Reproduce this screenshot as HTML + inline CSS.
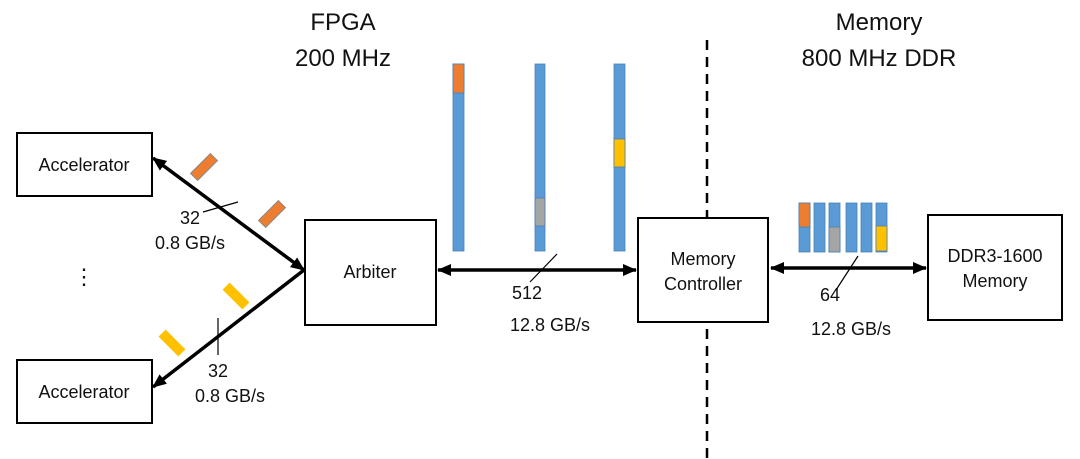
<!DOCTYPE html>
<html><head><style>body{margin:0;background:#fff}svg{display:block}text{font-family:"Liberation Sans",sans-serif;fill:#111}</style></head>
<body>
<svg width="1080" height="459" viewBox="0 0 1080 459">
<defs><marker id="a" markerWidth="14" markerHeight="12" refX="13" refY="6" orient="auto-start-reverse" markerUnits="userSpaceOnUse"><path d="M0,0 L14,6 L0,12z" fill="#000"/></marker>
<marker id="b" markerWidth="14" markerHeight="12" refX="13" refY="6" orient="auto-start-reverse" markerUnits="userSpaceOnUse"><path d="M0,0 L14,6 L0,12z" fill="#000"/></marker></defs>
<text x="343" y="30" font-size="24" text-anchor="middle">FPGA</text>
<text x="343" y="66" font-size="24" text-anchor="middle">200 MHz</text>
<text x="879" y="30" font-size="24" text-anchor="middle">Memory</text>
<text x="879" y="66" font-size="24" text-anchor="middle">800 MHz DDR</text>
<line x1="707" y1="40" x2="707" y2="459" stroke="#000" stroke-width="2.5" stroke-dasharray="10,7"/>
<g fill="#fff" stroke="#000" stroke-width="2">
<rect x="17" y="133" width="135" height="63"/><rect x="17" y="360" width="135" height="63"/>
<rect x="305" y="220" width="131" height="105"/><rect x="638" y="218" width="130" height="104"/>
<rect x="928" y="215" width="134" height="105"/></g>
<g font-size="18" text-anchor="middle">
<text x="84" y="171">Accelerator</text><text x="84" y="398">Accelerator</text>
<text x="370" y="278">Arbiter</text>
<text x="703" y="265">Memory</text><text x="703" y="290">Controller</text>
<text x="995" y="262">DDR3-1600</text><text x="995" y="287">Memory</text>
<text x="190" y="224">32</text><text x="190" y="249">0.8 GB/s</text>
<text x="218" y="377">32</text><text x="230" y="402">0.8 GB/s</text>
<text x="527" y="299">512</text><text x="550" y="331">12.8 GB/s</text>
<text x="830" y="301">64</text><text x="851" y="335">12.8 GB/s</text>
</g>
<g font-size="22" text-anchor="middle"><text x="84" y="284">⋮</text></g>
<g stroke="#000" stroke-width="3.5" fill="none">
<line x1="153" y1="158" x2="304" y2="270" marker-start="url(#a)" marker-end="url(#a)"/>
<line x1="153" y1="387" x2="304" y2="270" marker-start="url(#a)"/>
<line x1="438" y1="270" x2="636" y2="270" marker-start="url(#b)" marker-end="url(#b)"/>
<line x1="771" y1="268" x2="926" y2="268" marker-start="url(#b)" marker-end="url(#b)"/>
</g>
<g stroke="#000" stroke-width="1.2">
<line x1="203" y1="212" x2="238" y2="202"/><line x1="218" y1="318" x2="218" y2="355"/>
<line x1="530" y1="282" x2="557" y2="254"/><line x1="836" y1="290" x2="858" y2="256"/></g>
<g stroke="#888" stroke-width="1">
<rect x="-5" y="-14" width="10" height="28" fill="#ED7D31" transform="translate(204,167) rotate(45)"/>
<rect x="-5" y="-14" width="10" height="28" fill="#ED7D31" transform="translate(272,214) rotate(45)"/>
<rect x="-5" y="-14" width="10" height="28" fill="#FFC000" stroke="none" transform="translate(236,296) rotate(-45)"/>
<rect x="-5" y="-14" width="10" height="28" fill="#FFC000" stroke="none" transform="translate(172,343) rotate(-45)"/>
</g>
<g stroke="#4a7fb5" stroke-width="0.8">
<rect x="453" y="64" width="11" height="187" fill="#5B9BD5"/><rect x="453" y="64" width="11" height="29" fill="#ED7D31"/>
<rect x="535" y="64" width="10" height="187" fill="#5B9BD5"/><rect x="535" y="198" width="10" height="28" fill="#A5A5A5"/>
<rect x="614" y="64" width="11" height="187" fill="#5B9BD5"/><rect x="614" y="139" width="11" height="28" fill="#FFC000"/>
<rect x="799" y="203" width="11" height="49" fill="#5B9BD5"/><rect x="799" y="203" width="11" height="24" fill="#ED7D31"/>
<rect x="814" y="203" width="11" height="49" fill="#5B9BD5"/>
<rect x="829" y="203" width="11" height="49" fill="#5B9BD5"/><rect x="829" y="227" width="11" height="25" fill="#A5A5A5"/>
<rect x="846" y="203" width="11" height="49" fill="#5B9BD5"/>
<rect x="861" y="203" width="11" height="49" fill="#5B9BD5"/>
<rect x="876" y="203" width="11" height="49" fill="#5B9BD5"/><rect x="876" y="226" width="11" height="25" fill="#FFC000"/>
</g>
</svg>
</body></html>
